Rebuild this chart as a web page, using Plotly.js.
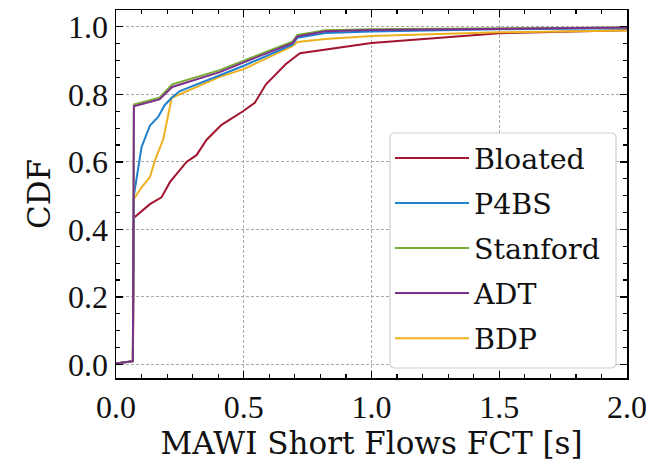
<!DOCTYPE html>
<html><head><meta charset="utf-8">
<script src="https://cdn.plot.ly/plotly-3.0.1.min.js"></script>
<style>html,body{margin:0;padding:0;background:#fff}#chart{width:646px;height:467px}</style>
</head><body><div id="chart"></div>
<script>
const seriesNames = ["Bloated", "P4BS", "Stanford", "ADT", "BDP"];
const seriesColors = ["#A2142F", "#1f80cc", "#77AC30", "#7E2F8E", "#EDB120"];

const bloatedX = [0, 0.066, 0.07, 0.133, 0.178, 0.211, 0.276, 0.315, 0.354, 0.413, 0.497, 0.543, 0.587, 0.665, 0.72, 1.0, 1.5, 2.0];
const bloatedY = [0.003, 0.01, 0.435, 0.475, 0.495, 0.54, 0.60, 0.62, 0.665, 0.71, 0.75, 0.775, 0.83, 0.89, 0.922, 0.952, 0.981, 0.99];

const p4bsX = [0, 0.066, 0.07, 0.10, 0.133, 0.165, 0.19, 0.218, 0.25, 0.5, 0.69, 0.71, 0.82, 1.0, 1.5, 2.0];
const p4bsY = [0.003, 0.01, 0.50, 0.644, 0.708, 0.733, 0.768, 0.79, 0.81, 0.885, 0.947, 0.968, 0.982, 0.986, 0.993, 0.996];

const stanfordX = [0, 0.066, 0.07, 0.17, 0.22, 0.406, 0.5, 0.69, 0.71, 0.82, 1.0, 1.5, 2.0];
const stanfordY = [0.003, 0.01, 0.77, 0.79, 0.83, 0.872, 0.90, 0.956, 0.976, 0.99, 0.993, 0.996, 0.998];

const adtX = [0, 0.066, 0.07, 0.17, 0.22, 0.406, 0.5, 0.69, 0.71, 0.82, 1.0, 1.5, 2.0];
const adtY = [0.003, 0.01, 0.765, 0.785, 0.822, 0.866, 0.895, 0.952, 0.972, 0.987, 0.991, 0.995, 0.998];

const bdpX = [0, 0.066, 0.07, 0.10, 0.133, 0.152, 0.185, 0.218, 0.406, 0.5, 0.69, 0.71, 0.82, 1.0, 1.5, 2.0];
const bdpY = [0.003, 0.01, 0.49, 0.525, 0.555, 0.604, 0.667, 0.79, 0.852, 0.875, 0.943, 0.955, 0.964, 0.973, 0.984, 0.989];

const xTickVals = [0, 0.5, 1.0, 1.5, 2.0];
const yTickVals = [0, 0.2, 0.4, 0.6, 0.8, 1.0];

const allX = [bloatedX, p4bsX, stanfordX, adtX, bdpX];
const allY = [bloatedY, p4bsY, stanfordY, adtY, bdpY];

const traces = seriesNames.map((n, i) => ({
  x: allX[i], y: allY[i], name: n, type: 'scatter', mode: 'lines',
  line: {color: seriesColors[i], width: 2},
  legendgroup: 'g' + i, legendrank: i + 1
}));
const order = [0, 4, 1, 2, 3];
const drawn = order.map(i => traces[i]);

// rounded legend frame (paper coordinates)
const bx0 = 0.5362, bx1 = 0.9785, by0 = 0.0272, by1 = 0.6658, rx = 0.0098, ry = 0.0136;
const framePath = `M${bx0 + rx},${by1} L${bx1 - rx},${by1} Q${bx1},${by1} ${bx1},${by1 - ry} ` +
  `L${bx1},${by0 + ry} Q${bx1},${by0} ${bx1 - rx},${by0} L${bx0 + rx},${by0} Q${bx0},${by0} ${bx0},${by0 + ry} ` +
  `L${bx0},${by1 - ry} Q${bx0},${by1} ${bx0 + rx},${by1} Z`;

const titleFont = "'DejaVu Serif', serif";
const tickFont = "'Liberation Serif', 'Times New Roman', serif";
const layout = {
  width: 646, height: 467,
  margin: {l: 116, r: 19, t: 10, b: 89},
  paper_bgcolor: '#fff', plot_bgcolor: '#fff',
  font: {family: titleFont, size: 22, color: '#111'},
  showlegend: true,
  legend: {
    x: 0.5362, y: 0.666, xanchor: 'left', yanchor: 'top',
    bgcolor: 'rgba(0,0,0,0)', borderwidth: 0,
    font: {family: titleFont, size: 28.5, color: '#111'},
    traceorder: 'grouped', tracegroupgap: 5, itemwidth: 74
  },
  shapes: [{
    type: 'path', xref: 'paper', yref: 'paper', path: framePath, layer: 'above',
    fillcolor: '#fff', line: {color: '#cfcfcf', width: 1.2}
  }],
  xaxis: {
    range: [0, 2.0], tickvals: xTickVals, tickformat: '.1f',
    tickfont: {family: tickFont, size: 32, color: '#111'},
    ticklabeloverflow: 'allow',
    ticks: 'inside', ticklen: 7, tickwidth: 1.2, tickcolor: '#000',
    minor: {dtick: 0.1, ticks: 'inside', ticklen: 4, tickcolor: '#000', showgrid: false},
    showline: true, linecolor: '#000', linewidth: 1.5, mirror: 'allticks',
    showgrid: true, gridcolor: '#aaa', griddash: '3px,2px', gridwidth: 1,
    zeroline: false, automargin: false,
    title: {text: 'MAWI Short Flows FCT [s]', font: {family: titleFont, size: 31, color: '#111'}, standoff: 7}
  },
  yaxis: {
    range: [-0.04, 1.05], tickvals: yTickVals, tickformat: '.1f',
    tickfont: {family: tickFont, size: 32, color: '#111'},
    ticklabeloverflow: 'allow',
    ticks: 'inside', ticklen: 7, tickwidth: 1.2, tickcolor: '#000',
    minor: {dtick: 0.05, ticks: 'inside', ticklen: 4, tickcolor: '#000', showgrid: false},
    showline: true, linecolor: '#000', linewidth: 1.5, mirror: 'allticks',
    showgrid: true, gridcolor: '#aaa', griddash: '3px,2px', gridwidth: 1,
    zeroline: false, automargin: false,
    title: {text: 'CDF', font: {family: titleFont, size: 31, color: '#111'}, standoff: 8}
  }
};
Plotly.newPlot('chart', drawn, layout, {displayModeBar: false, staticPlot: true});
</script></body></html>
